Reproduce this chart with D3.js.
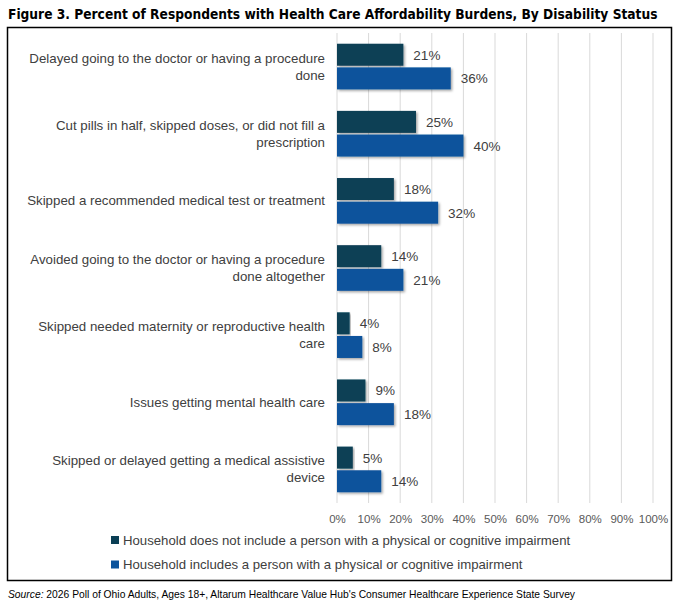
<!DOCTYPE html>
<html>
<head>
<meta charset="utf-8">
<script src="https://cdn.jsdelivr.net/npm/d3@7"></script>
<style>
  body { margin: 0; background: #fff; }
  text { font-family: Arial, "Liberation Sans", sans-serif; }
</style>
</head>
<body>
<script>
var categories = [
  ["Delayed going to the doctor or having a procedure", "done"],
  ["Cut pills in half, skipped doses, or did not fill a", "prescription"],
  ["Skipped a recommended medical test or treatment"],
  ["Avoided going to the doctor or having a procedure", "done altogether"],
  ["Skipped needed maternity or reproductive health", "care"],
  ["Issues getting mental health care"],
  ["Skipped or delayed getting a medical assistive", "device"]
];
var noImpairment = [21, 25, 18, 14, 4, 9, 5];
var withImpairment = [36, 40, 32, 21, 8, 18, 14];
var seriesNames = [
  "Household does not include a person with a physical or cognitive impairment",
  "Household includes a person with a physical or cognitive impairment"
];
var seriesColors = ["#0a3f55", "#0b539c"];
var tickValues = [0, 10, 20, 30, 40, 50, 60, 70, 80, 90, 100];

var width = 682, height = 606;
var svg = d3.select("body").append("svg")
            .attr("width", width)
            .attr("height", height);

var defs = svg.append("defs");
var shadow = defs.append("filter").attr("id", "shadow")
                 .attr("x", "-5%").attr("y", "-20%")
                 .attr("width", "115%").attr("height", "150%");
shadow.append("feDropShadow")
      .attr("dx", 1.5).attr("dy", 1.5).attr("stdDeviation", 1)
      .attr("flood-color", "#000").attr("flood-opacity", 0.35);

// title - font size fitted to the width of the reference title
var title = svg.append("text")
   .attr("x", 8).attr("y", 19)
   .style("font-family", "'Liberation Sans Narrow', 'DejaVu Sans Condensed', Arial, sans-serif")
   .style("font-weight", "bold")
   .style("font-size", "16px")
   .attr("fill", "#000")
   .text("Figure 3. Percent of Respondents with Health Care Affordability Burdens, By Disability Status");
var tw = title.node().getComputedTextLength();
title.style("font-size", Math.min(17, 16 * 650 / tw) + "px");

// frame
svg.append("rect")
   .attr("x", 7.5).attr("y", 27.5)
   .attr("width", 664).attr("height", 553)
   .attr("fill", "none").attr("stroke", "#000").attr("stroke-width", 1.5);

var x = d3.scaleLinear().domain([0, 100]).range([337, 653]);
var y = d3.scaleBand().domain(d3.range(categories.length)).range([33, 503]).paddingInner(0.32).paddingOuter(0.16);
var y1 = d3.scaleBand().domain([0, 1]).range([0, y.bandwidth()]).paddingInner(0.07);

// gridlines
svg.append("g").selectAll("line")
   .data(tickValues)
   .enter()
      .append("line")
      .attr("x1", function(d) { return x(d); })
      .attr("x2", function(d) { return x(d); })
      .attr("y1", 33).attr("y2", 503)
      .attr("stroke", "#d9d9d9").attr("stroke-width", 1);

// axis
var axis = svg.append("g")
   .attr("transform", "translate(0,503)")
   .call(d3.axisBottom(x).tickValues(tickValues).tickSize(0).tickPadding(12)
           .tickFormat(function(d) { return d + "%"; }));
axis.select(".domain").remove();
axis.selectAll("text")
    .style("font-size", "11.5px")
    .attr("fill", "#595959");

// category labels
var labels = svg.append("g").selectAll("text")
   .data(categories)
   .enter()
      .append("text")
      .attr("text-anchor", "end")
      .attr("x", 325)
      .attr("y", function(d, i) {
        return y(i) + y.bandwidth() / 2 + 4.5 - (d.length - 1) * 8.5;
      })
      .style("font-size", "13.3px")
      .attr("fill", "#404040");
labels.selectAll("tspan")
      .data(function(d) { return d; })
      .enter()
      .append("tspan")
      .attr("x", 325)
      .attr("dy", function(d, i) { return i === 0 ? 0 : 17; })
      .text(function(d) { return d; });

// bars
var series = [noImpairment, withImpairment];
series.forEach(function(values, s) {
  var g = svg.append("g");
  g.selectAll("rect")
   .data(values)
   .enter()
      .append("rect")
      .attr("x", x(0))
      .attr("y", function(d, i) { return y(i) + y1(s); })
      .attr("width", function(d) { return x(d) - x(0); })
      .attr("height", y1.bandwidth())
      .attr("fill", seriesColors[s])
      .attr("filter", "url(#shadow)");
  g.selectAll("text")
   .data(values)
   .enter()
      .append("text")
      .attr("x", function(d) { return x(d) + 10; })
      .attr("y", function(d, i) { return y(i) + y1(s) + y1.bandwidth() / 2 + 5; })
      .style("font-size", "13.5px")
      .attr("fill", "#404040")
      .text(function(d) { return d + "%"; });
});

// legend
var legend = svg.append("g").selectAll("g")
   .data(seriesNames)
   .enter()
      .append("g")
      .attr("transform", function(d, i) { return "translate(111," + (536 + i * 24.5) + ")"; });
legend.append("rect")
      .attr("width", 8).attr("height", 8)
      .attr("fill", function(d, i) { return seriesColors[i]; });
legend.append("text")
      .attr("x", 12).attr("y", 8.5)
      .style("font-size", "13.2px")
      .attr("fill", "#404040")
      .text(function(d) { return d; });

// source
var source = svg.append("text")
   .attr("x", 8).attr("y", 598)
   .style("font-size", "10.3px")
   .attr("fill", "#000");
source.append("tspan").style("font-style", "italic").text("Source:");
source.append("tspan").text(" 2026 Poll of Ohio Adults, Ages 18+, Altarum Healthcare Value Hub's Consumer Healthcare Experience State Survey");
</script>
</body>
</html>
